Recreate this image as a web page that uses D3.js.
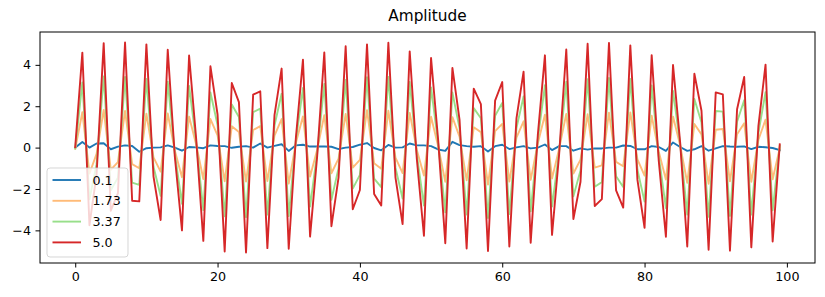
<!DOCTYPE html>
<html>
<head>
<meta charset="utf-8">
<script src="https://cdn.jsdelivr.net/npm/d3@7"></script>
<style>
  body { margin: 0; background: #fff; }
  svg text { font-family: "DejaVu Sans", sans-serif; fill: #000; }
</style>
</head>
<body>
<div id="chart_container"></div>
<script>
// -- DATA -- // values, one array per amplitude
const labels = ["0.1", "1.73", "3.37", "5.0"];
const colors = ["#1f77b4", "#ffbb78", "#98df8a", "#d62728"];
const xTicks = [0, 20, 40, 60, 80, 100];
const yTicks = [-4, -2, 0, 2, 4];

const amp01 = [
  0.0, 0.27, 0.0, 0.2, 0.21, -0.08, 0.05, 0.11, 0.08, -0.2,
  -0.03, 0.0, 0.01, 0.11, 0.0, -0.15, 0.03, 0.01, -0.03, 0.11,
  0.08, 0.07, -0.01, 0.04, 0.07, 0.0, 0.2, 0.0, 0.08, 0.16,
  -0.16, 0.11, 0.14, 0.05, 0.05, 0.05, 0.04, -0.07, 0.0, 0.03,
  0.14, 0.22, -0.02, -0.13, 0.13, 0.0, 0.01, 0.2, 0.11, 0.11,
  0.07, -0.09, -0.16, 0.28, 0.12, 0.07, 0.04, 0.07, -0.19, 0.07,
  0.14, -0.07, 0.01, 0.07, -0.04, 0.0, 0.15, -0.12, 0.07, 0.07,
  -0.15, -0.04, -0.1, -0.04, -0.04, 0.0, 0.0, 0.1, 0.08, -0.08,
  -0.08, 0.07, 0.03, -0.16, 0.25, 0.03, -0.16, -0.08, 0.07, -0.15,
  -0.04, 0.07, 0.05, 0.04, 0.06, -0.07, 0.04, 0.02, -0.02, -0.12,
];
const amp173 = [
  -0.06, 1.71, -1.25, -0.3, 1.82, -1.07, -0.7, 1.77, -0.8, -1.0,
  1.64, -0.47, -1.16, 1.65, -0.15, -1.43, 1.5, 0.14, -1.52, 1.38,
  0.59, -1.63, 1.03, 0.76, -1.64, 0.85, 1.04, -1.62, 0.58, 1.38,
  -1.74, 0.22, 1.51, -1.4, -0.1, 1.57, -1.24, -0.53, 1.63, -0.97,
  -0.59, 1.81, -0.76, -1.02, 1.78, -0.48, -1.23, 1.68, -0.11, -1.35,
  1.49, 0.06, -1.65, 1.47, 0.53, -1.58, 0.98, 0.75, -1.79, 0.8,
  1.15, -1.64, 0.48, 1.27, -1.56, 0.2, 1.59, -1.49, -0.05, 1.63,
  -1.25, -0.58, 1.61, -0.97, -0.86, 1.69, -0.69, -0.9, 1.7, -0.57,
  -1.35, 1.54, -0.2, -1.54, 1.5, 0.11, -1.7, 1.14, 0.64, -1.75,
  0.86, 0.9, -1.63, 0.64, 1.18, -1.65, 0.38, 1.35, -1.53, -0.03,
];
const amp337 = [
  -0.04, 3.15, -2.5, -0.8, 3.44, -2.06, -1.45, 3.42, -1.69, -1.8,
  3.32, -0.93, -2.33, 3.19, -0.3, -2.72, 2.98, 0.27, -3.02, 2.66,
  1.09, -3.32, 2.08, 1.48, -3.36, 1.71, 1.88, -3.24, 1.07, 2.6,
  -3.31, 0.34, 2.88, -2.85, -0.25, 3.08, -2.52, -0.99, 3.27, -1.98,
  -1.32, 3.4, -1.5, -1.91, 3.42, -0.97, -2.46, 3.17, -0.33, -2.8,
  2.91, 0.2, -3.13, 2.66, 0.94, -3.23, 1.91, 1.42, -3.4, 1.54,
  2.16, -3.21, 0.94, 2.47, -3.08, 0.4, 3.02, -2.85, -0.18, 3.18,
  -2.35, -1.11, 3.31, -1.89, -1.67, 3.37, -1.38, -1.9, 3.32, -1.07,
  -2.61, 3.0, -0.43, -2.93, 2.74, 0.18, -3.24, 2.35, 1.21, -3.34,
  1.77, 1.74, -3.3, 1.25, 2.29, -3.24, 0.71, 2.68, -3.03, 0.07,
];
const amp50 = [
  0.02, 4.59, -3.75, -1.3, 5.05, -3.05, -2.2, 5.08, -2.57, -2.6,
  4.99, -1.4, -3.5, 4.73, -0.45, -4.0, 4.45, 0.4, -4.51, 3.93,
  1.6, -5.02, 3.12, 2.2, -5.07, 2.56, 2.72, -4.86, 1.57, 3.82,
  -4.89, 0.45, 4.25, -4.3, -0.4, 4.6, -3.8, -1.45, 4.9, -2.98,
  -2.05, 4.99, -2.24, -2.8, 5.07, -1.45, -3.7, 4.65, -0.55, -4.26,
  4.33, 0.35, -4.62, 3.85, 1.35, -4.88, 2.85, 2.1, -5.0, 2.27,
  3.17, -4.78, 1.41, 3.67, -4.6, 0.6, 4.46, -4.22, -0.3, 4.74,
  -3.45, -1.65, 5.02, -2.82, -2.49, 5.06, -2.07, -2.9, 4.94, -1.56,
  -3.88, 4.47, -0.66, -4.31, 3.99, 0.26, -4.78, 3.57, 1.78, -4.94,
  2.67, 2.57, -4.98, 1.85, 3.41, -4.82, 1.05, 4.01, -4.54, 0.16,
];

const seriesValues = [amp01, amp173, amp337, amp50];

// -- LAYOUT -- //
const width = 825;
const height = 297;
const margin = { top: 32, right: 10, bottom: 34, left: 40 };
const fontSize = 12.7;

const svg = d3
  .select("#chart_container")
  .append("svg")
  .attr("width", width)
  .attr("height", height);

// matplotlib style 5% padding around the data
function padded(extent) {
  const pad = (extent[1] - extent[0]) * 0.05;
  return [extent[0] - pad, extent[1] + pad];
}

const xExtent = [0, amp50.length - 1];
const yExtent = d3.extent(seriesValues.flat());

const x = d3
  .scaleLinear()
  .domain(padded(xExtent))
  .range([margin.left, width - margin.right]);
const y = d3
  .scaleLinear()
  .domain(padded(yExtent))
  .range([height - margin.bottom, margin.top]);

// title
svg
  .append("text")
  .attr("x", (margin.left + width - margin.right) / 2)
  .attr("y", 21)
  .attr("text-anchor", "middle")
  .style("font-size", "15.3px")
  .text("Amplitude");

// lines, clipped to the axes box
svg
  .append("clipPath")
  .attr("id", "plot-clip")
  .append("rect")
  .attr("x", margin.left)
  .attr("y", margin.top)
  .attr("width", width - margin.left - margin.right)
  .attr("height", height - margin.top - margin.bottom);

const line = d3
  .line()
  .x((d, i) => x(i))
  .y((d) => y(d));

svg
  .append("g")
  .attr("clip-path", "url(#plot-clip)")
  .selectAll("path")
  .data(seriesValues)
  .join("path")
  .attr("d", line)
  .attr("fill", "none")
  .attr("stroke", (d, i) => colors[i])
  .attr("stroke-width", 1.9)
  .attr("stroke-linejoin", "round")
  .attr("stroke-linecap", "square");

// axes
const xAxis = d3
  .axisBottom(x)
  .tickValues(xTicks)
  .tickSize(4.5)
  .tickPadding(4.5)
  .tickFormat(d3.format("d"));
const yAxis = d3
  .axisLeft(y)
  .tickValues(yTicks)
  .tickSize(4.5)
  .tickPadding(4.5)
  .tickFormat(d3.format("d"));

const gx = svg
  .append("g")
  .attr("transform", `translate(0,${height - margin.bottom})`)
  .call(xAxis);
const gy = svg
  .append("g")
  .attr("transform", `translate(${margin.left},0)`)
  .call(yAxis);

[gx, gy].forEach((g) => {
  g.select(".domain").remove();
  g.selectAll(".tick line").attr("stroke", "#000").attr("stroke-width", 1);
  g.selectAll(".tick text")
    .style("font-size", fontSize + "px")
    .attr("fill", "#000")
    .style("font-family", "DejaVu Sans, sans-serif");
});

// frame around the plot (all four spines)
svg
  .append("rect")
  .attr("x", margin.left)
  .attr("y", margin.top)
  .attr("width", width - margin.left - margin.right)
  .attr("height", height - margin.top - margin.bottom)
  .attr("fill", "none")
  .attr("stroke", "#000")
  .attr("stroke-width", 1);

// legend in the lower left corner
const legendBox = { x: margin.left + 7, y: 168, w: 81, h: 89 };
const legend = svg.append("g");
legend
  .append("rect")
  .attr("x", legendBox.x)
  .attr("y", legendBox.y)
  .attr("width", legendBox.w)
  .attr("height", legendBox.h)
  .attr("rx", 3)
  .attr("fill", "rgba(255,255,255,0.8)")
  .attr("stroke", "rgba(204,204,204,0.8)")
  .attr("stroke-width", 1);

const rows = legend
  .selectAll("g.row")
  .data(labels)
  .join("g")
  .attr("class", "row")
  .attr("transform", (d, i) => `translate(0,${legendBox.y + 12 + i * 20.8})`);

rows
  .append("line")
  .attr("x1", legendBox.x + 5.5)
  .attr("x2", legendBox.x + 34)
  .attr("y1", 0)
  .attr("y2", 0)
  .attr("stroke", (d, i) => colors[i])
  .attr("stroke-width", 1.9);

rows
  .append("text")
  .attr("x", legendBox.x + 45.5)
  .attr("y", 0)
  .attr("dy", "0.36em")
  .style("font-size", fontSize + "px")
  .text((d) => d);
</script>
</body>
</html>
